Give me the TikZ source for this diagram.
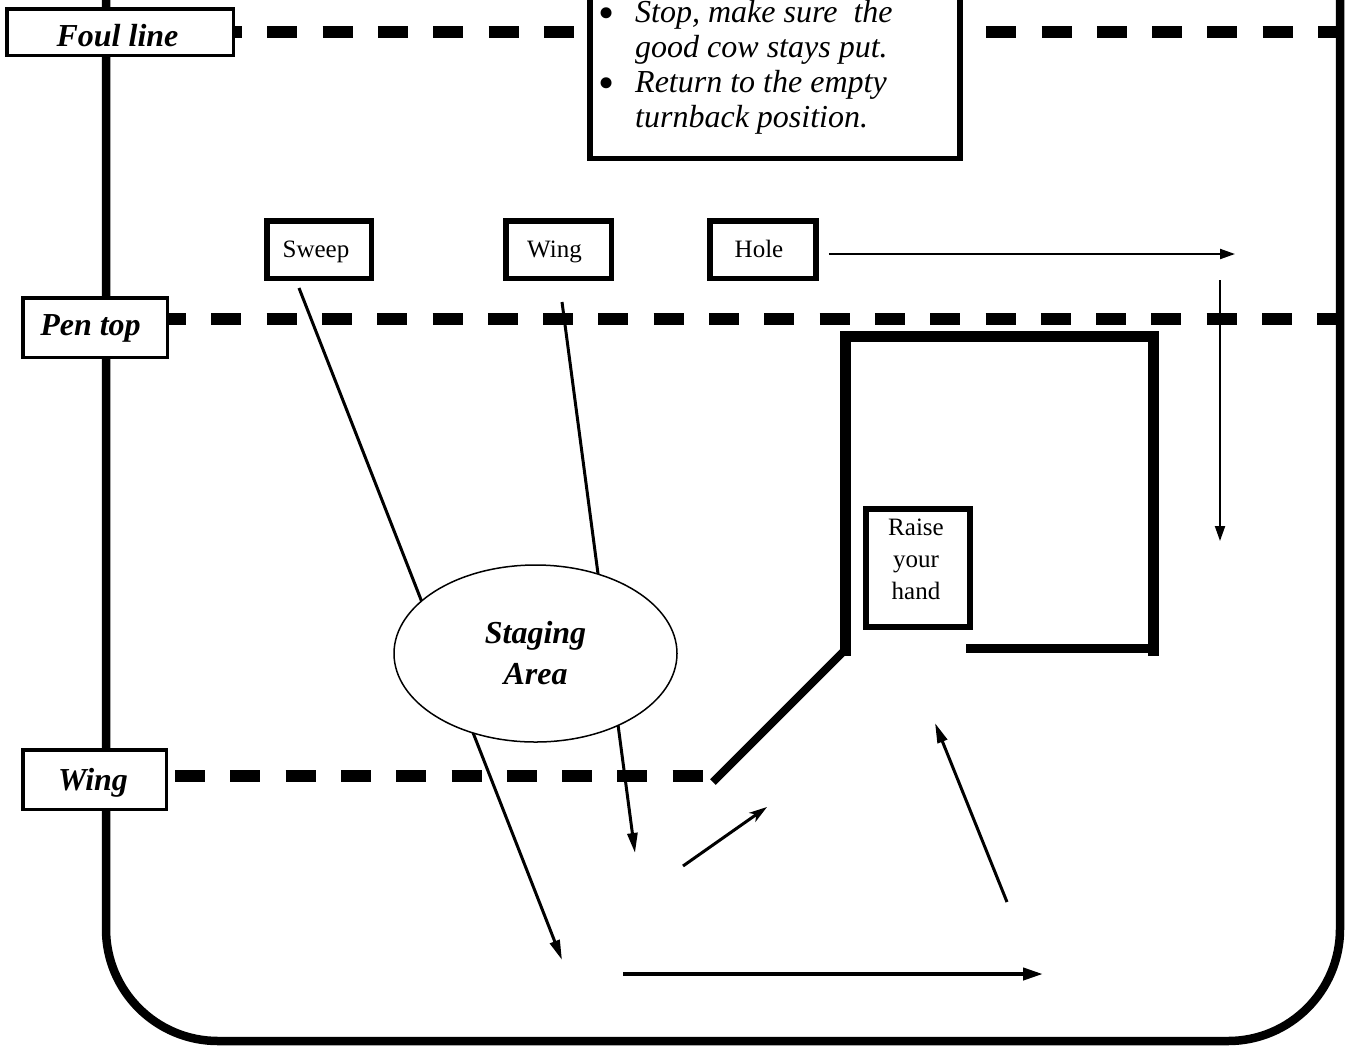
\documentclass[tikz,border=0pt]{standalone}
\usepackage{fontspec}
\setmainfont{Liberation Serif}
\usetikzlibrary{arrows.meta,shapes.geometric}
\begin{document}
\begin{tikzpicture}[x=1pt,y=-1pt,
  labbox/.style={draw, line width=3.5pt, fill=white, inner sep=0pt},
  labtext/.style={anchor=base, inner sep=0pt, font=\bfseries\itshape\fontsize{32}{36}\selectfont},
  tagbox/.style={draw, line width=5.5pt, fill=white, inner sep=0pt},
  tagtext/.style={anchor=base, inner sep=0pt, font=\fontsize{25}{32}\selectfont},
  dline/.style={line width=11.5pt, dash pattern=on 30pt off 25.3pt},
  penwall/.style={line width=11pt},
  note/.style={anchor=base west, inner sep=0pt, font=\itshape\fontsize{32}{35}\selectfont},
  bul/.style={anchor=base, inner sep=0pt, font=\fontsize{46}{46}\selectfont},
  thinarr/.style={line width=2pt, -{Triangle[length=15pt,width=10pt]}},
  midarr/.style={line width=3pt, -{Triangle[length=20pt,width=10pt]}},
  barbarr/.style={line width=3pt, -{Stealth[length=18pt,width=11pt,inset=5pt]}},
  bigarr/.style={line width=4pt, -{Triangle[length=20pt,width=12pt]}},
]
\useasboundingbox (0,0) rectangle (1348,1045);
\clip (0,0) rectangle (1348,1045);

% arena boundary
\coordinate (bTL) at (106,-20);
\coordinate (bBL) at (106,1041);
\coordinate (bBR) at (1340,1041);
\coordinate (bTR) at (1340,-20);
\draw[line width=8.5pt, rounded corners=112pt] (bTL) -- (bBL) -- (bBR) -- (bTR);

% dashed lines
\coordinate (f0) at (212,32);  \coordinate (f1) at (1344,32);
\coordinate (p0) at (156,319); \coordinate (p1) at (1344,319);
\coordinate (w0) at (175,776); \coordinate (w1) at (707,776);
\draw[dline] (f0) -- (f1);
\draw[dline] (p0) -- (p1);
\draw[dline] (w0) -- (w1);

% pen
\coordinate (pA) at (845,656);
\coordinate (pB) at (845,336);
\coordinate (pC) at (1153.5,336);
\coordinate (pD) at (1153.5,656);
\coordinate (pE) at (966,648.5);
\coordinate (pF) at (1153.5,648.5);
\coordinate (pG) at (713,782);
\coordinate (pH) at (845,650);
\draw[penwall] (pA) -- (pB) -- (pC) -- (pD);
\draw[line width=9pt] (pE) -- (pF);
\draw[line width=8pt] (pG) -- (pH);

% sweep and wing paths (behind the ellipse)
\coordinate (s0) at (299,288); \coordinate (s1) at (562,960);
\coordinate (g0) at (562,302); \coordinate (g1) at (635,853);
\draw[midarr] (s0) -- (s1);
\draw[midarr] (g0) -- (g1);

% staging area
\node[ellipse, draw, line width=1.5pt, fill=white, minimum width=283pt, minimum height=177pt, inner sep=0pt,
      align=center, font=\bfseries\itshape\fontsize{32}{41}\selectfont] (stage) at (535.5,653.5) {Staging\\Area};

% instruction box
\node[draw, line width=5.5pt, fill=white, minimum width=370pt, minimum height=200pt, inner sep=0pt] (tb) at (775,58.5) {};
\node[bul] (b1) at (607,28.5) {\textbullet};
\node[note] (t1) at (635,22.5) {Stop, make sure\ \ the};
\node[note] (t2) at (635,57) {good cow stays put.};
\node[bul] (b2) at (607,98.5) {\textbullet};
\node[note] (t3) at (635,92) {Return to the empty};
\node[note] (t4) at (635,127) {turnback position.};

% labels
\node[labbox, minimum width=226.5pt, minimum height=46.5pt] (foul) at (120,32) {};
\node[labtext] (foultxt) at (117.5,46) {Foul line};
\node[labbox, minimum width=144.5pt, minimum height=59.5pt] (pentop) at (95,327.5) {};
\node[labtext] (pentoptxt) at (90.5,335) {Pen top};
\node[labbox, minimum width=143.5pt, minimum height=59.5pt] (wingl) at (94.5,779.5) {};
\node[labtext] (wingltxt) at (93,790) {Wing};

% position boxes
\node[tagbox, minimum width=104.5pt, minimum height=57.5pt] (sweep) at (319,249.5) {};
\node[tagtext] (sweeptxt) at (316,257) {Sweep};
\node[tagbox, minimum width=105.5pt, minimum height=57.5pt] (wing) at (558.5,249.5) {};
\node[tagtext] (wingtxt) at (554.5,257) {Wing};
\node[tagbox, minimum width=106pt, minimum height=57.5pt] (hole) at (763,249.5) {};
\node[tagtext] (holetxt) at (759,257) {Hole};
\node[draw, line width=6pt, fill=white, minimum width=104pt, minimum height=118pt, inner sep=0pt] (raisebox) at (918,568) {};
\node[align=center, inner sep=0pt, font=\fontsize{25}{32}\selectfont] (raise) at (916,559) {Raise\\your\\hand};

% arrows
\coordinate (h1) at (1235,254);
\draw[thinarr, shorten <=10pt] (hole.east |- h1) -- (h1);
\coordinate (v0) at (1220,280); \coordinate (v1) at (1220,541);
\draw[thinarr] (v0) -- (v1);
\coordinate (a0) at (683,866); \coordinate (a1) at (767,807);
\draw[barbarr] (a0) -- (a1);
\coordinate (c0) at (1007,902); \coordinate (c1) at (935,723);
\draw[midarr] (c0) -- (c1);
\coordinate (d0) at (623,974); \coordinate (d1) at (1043,974);
\draw[bigarr] (d0) -- (d1);
\end{tikzpicture}
\end{document}
